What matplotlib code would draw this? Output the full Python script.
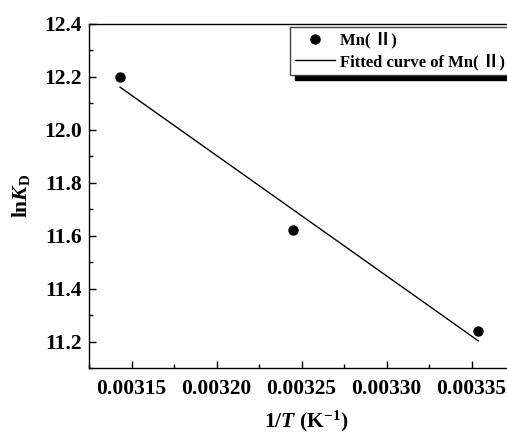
import matplotlib
matplotlib.use("Agg")
import matplotlib.pyplot as plt
from matplotlib.ticker import MultipleLocator
import numpy as np

# 1/T (K^-1) against ln K_D for Mn(II)
inv_T = [0.0031432, 0.0032452, 0.0033540]
ln_KD = [12.20, 11.622, 11.239]

plt.rcParams['font.family'] = ['Liberation Serif', 'Noto Sans CJK SC']
plt.rcParams['font.weight'] = 'bold'
plt.rcParams['mathtext.fontset'] = 'custom'
plt.rcParams['mathtext.rm'] = 'Liberation Serif:bold'
plt.rcParams['mathtext.bf'] = 'Liberation Serif:bold'
plt.rcParams['mathtext.it'] = 'Liberation Serif:italic:bold'

fontsize = 15.5

fig = plt.figure(figsize=(5.07, 4.37), dpi=100)
# axes run past the right edge of the figure
ax = fig.add_axes([89/507, 69/437, 433.5/507, 344/437])

slope, icept = np.polyfit(inv_T, ln_KD, 1)
x_fit = np.array([inv_T[0], inv_T[-1]])

ax.plot(inv_T, ln_KD, 'o', color='black', markersize=6.5, label='Mn( Ⅱ)')
ax.plot(x_fit, slope * x_fit + icept, '-', color='black', linewidth=1.0,
        label='Fitted curve of Mn( Ⅱ)')

ax.set_xlim(0.0031249, 0.00338)
ax.set_ylim(11.1, 12.4)
ax.xaxis.set_major_locator(MultipleLocator(0.00005))
ax.xaxis.set_minor_locator(MultipleLocator(0.000025))
ax.yaxis.set_major_locator(MultipleLocator(0.2))
ax.yaxis.set_minor_locator(MultipleLocator(0.1))
ax.xaxis.set_major_formatter(plt.FuncFormatter(lambda v, p: f'{v:.5f}'))
ax.yaxis.set_major_formatter(plt.FuncFormatter(lambda v, p: f'{v:.1f}'))

ax.tick_params(which='both', direction='in', width=1.0, labelsize=fontsize)
ax.tick_params(which='major', length=5)
ax.tick_params(which='minor', length=3)
ax.tick_params(axis='x', pad=8)
ax.tick_params(axis='y', pad=5)
ax.tick_params(top=False, right=False, which='both')
for s in ax.spines.values():
    s.set_linewidth(1.0)

ax.set_xlabel(r'$\mathrm{1/}\mathit{T}\ \mathrm{(K^{-1})}$', fontsize=fontsize, labelpad=7)
ax.set_ylabel(r'$\mathrm{ln}\mathit{K}_\mathrm{D}$', fontsize=fontsize, labelpad=9)

leg = ax.legend(loc='upper left', bbox_to_anchor=(0.4637, 0.991), borderaxespad=0,
                fontsize=12, frameon=True, fancybox=False, edgecolor='#444444',
                handlelength=2.4, handletextpad=0.3, borderpad=0.3, labelspacing=0.3,
                shadow={'ox': 3.6, 'oy': -3.6, 'facecolor': 'black',
                        'edgecolor': 'black', 'alpha': 1})
leg.get_frame().set_linewidth(1.0)

fig.savefig('out.png', dpi=100)
